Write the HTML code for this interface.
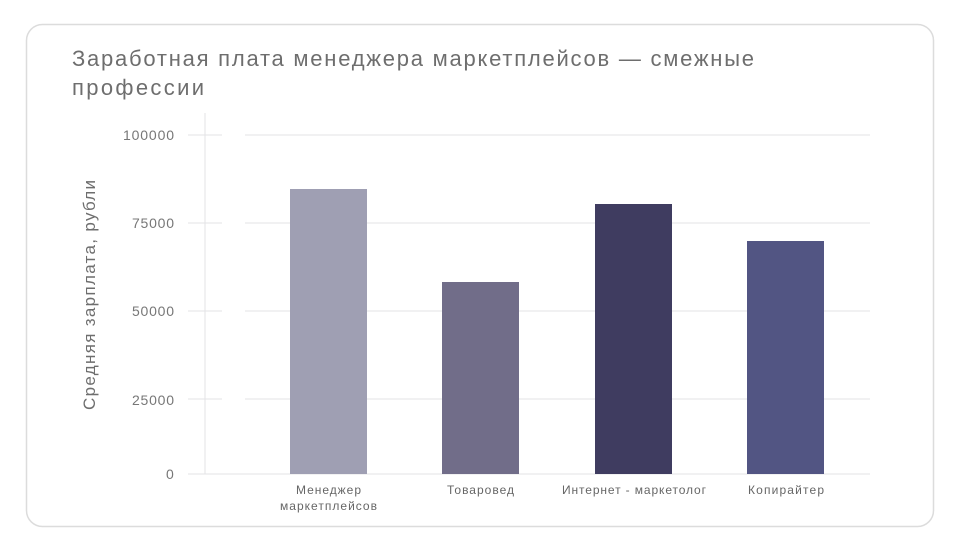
<!DOCTYPE html>
<html><head><meta charset="utf-8"><style>
body{margin:0;width:960px;height:550px;background:#fff;overflow:hidden;font-family:"Liberation Sans",sans-serif}
</style></head><body>
<svg width="960" height="550" xmlns="http://www.w3.org/2000/svg" font-family="Liberation Sans, sans-serif">
<rect x="26.5" y="24.5" width="907" height="502" rx="16" fill="#fff" stroke="#dcdcdc" stroke-width="1.5"/>
<text x="72" y="66" font-size="22" fill="#6e6e6e" textLength="682" lengthAdjust="spacing">Заработная плата менеджера маркетплейсов — смежные</text>
<text x="72" y="95" font-size="22" fill="#6e6e6e" textLength="132" lengthAdjust="spacing">профессии</text>
<g stroke="#e3e3e6" stroke-width="1">
<line x1="188" y1="135" x2="222" y2="135"/><line x1="245" y1="135" x2="870" y2="135"/>
<line x1="188" y1="223" x2="222" y2="223"/><line x1="245" y1="223" x2="870" y2="223"/>
<line x1="188" y1="311" x2="222" y2="311"/><line x1="245" y1="311" x2="870" y2="311"/>
<line x1="188" y1="399" x2="222" y2="399"/><line x1="245" y1="399" x2="870" y2="399"/>
<line x1="188" y1="474" x2="870" y2="474"/>
<line x1="205" y1="113" x2="205" y2="474"/>
</g>
<g font-size="14" fill="#777">
<text x="123" y="140" textLength="51" lengthAdjust="spacing">100000</text>
<text x="132" y="228" textLength="42" lengthAdjust="spacing">75000</text>
<text x="132" y="316" textLength="42" lengthAdjust="spacing">50000</text>
<text x="132" y="405" textLength="42" lengthAdjust="spacing">25000</text>
<text x="166" y="479">0</text>
</g>
<text transform="translate(95,295) rotate(-90)" font-size="17" fill="#6e6e6e" text-anchor="middle" textLength="230" lengthAdjust="spacing">Средняя зарплата, рубли</text>
<rect x="290" y="189" width="77" height="285" fill="#9f9fb3"/>
<rect x="442" y="282" width="77" height="192" fill="#716d89"/>
<rect x="595" y="204" width="77" height="270" fill="#3f3c60"/>
<rect x="747" y="241" width="77" height="233" fill="#525583"/>
<g font-size="12" fill="#666">
<text x="296" y="494" textLength="65" lengthAdjust="spacing">Менеджер</text>
<text x="280" y="510" textLength="97" lengthAdjust="spacing">маркетплейсов</text>
<text x="447" y="494" textLength="67" lengthAdjust="spacing">Товаровед</text>
<text x="562" y="494" textLength="144" lengthAdjust="spacing">Интернет - маркетолог</text>
<text x="748" y="494" textLength="76" lengthAdjust="spacing">Копирайтер</text>
</g>
</svg>
</body></html>
